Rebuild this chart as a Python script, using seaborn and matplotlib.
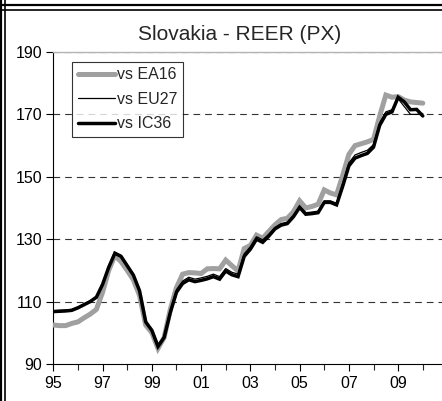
import numpy as np
import pandas as pd
import seaborn as sns
import matplotlib.pyplot as plt
from matplotlib.ticker import MultipleLocator, FixedLocator
from matplotlib.lines import Line2D

# quarterly, 1995Q1 .. 2010Q1
quarters = [1995 + i * 0.25 for i in range(61)]

ea16 = [102.5, 102.3, 102.3, 103.0, 103.5, 104.8, 106.0, 107.5,
        113.0, 120.0, 124.8, 122.8, 120.0, 117.0, 112.0, 102.5,
        100.0, 95.0, 98.5, 107.5, 114.5, 118.8, 119.3, 119.2,
        119.0, 120.5, 120.6, 120.5, 123.3, 121.5, 119.8, 127.0,
        128.0, 131.3, 130.3, 132.5, 134.6, 136.3, 136.7, 138.8,
        142.3, 140.0, 140.5, 141.2, 145.8, 144.8, 144.2, 150.5,
        157.2, 160.0, 160.6, 161.2, 162.0, 169.5, 176.2, 175.5,
        175.7, 174.6, 174.0, 173.8, 173.6]

eu27 = [107.1, 107.2, 107.3, 107.5, 108.3, 109.3, 110.3, 111.7,
        115.8, 121.3, 125.8, 124.8, 121.8, 118.8, 113.8, 103.8,
        101.0, 96.2, 98.8, 107.0, 113.8, 116.6, 117.8, 117.2,
        117.6, 118.1, 118.8, 118.0, 120.6, 119.4, 118.8, 125.3,
        127.6, 130.8, 129.8, 131.6, 133.8, 135.0, 135.5, 137.7,
        140.7, 138.5, 138.7, 139.0, 142.3, 142.3, 141.5, 147.8,
        154.5, 157.0, 157.8, 158.5, 160.3, 167.3, 170.8, 171.5,
        175.0, 172.5, 170.0, 170.0, 170.3]

ic36 = [106.8, 106.9, 107.0, 107.2, 108.0, 109.0, 110.0, 111.4,
        115.5, 121.0, 125.5, 124.5, 121.5, 118.5, 113.5, 103.5,
        100.8, 95.6, 98.5, 106.5, 113.0, 115.8, 117.0, 116.4,
        116.8, 117.3, 118.0, 117.2, 119.8, 118.6, 118.0, 124.5,
        126.8, 130.0, 129.0, 131.0, 133.3, 134.5, 135.0, 137.2,
        140.2, 138.0, 138.2, 138.5, 141.8, 141.8, 141.0, 147.0,
        153.5, 156.0, 156.8, 157.5, 159.5, 166.5, 170.0, 170.8,
        175.5, 174.0, 171.5, 171.6, 169.5]

labels = ['vs EA16', 'vs EU27', 'vs IC36']
year_labels = ['95', '97', '99', '01', '03', '05', '07', '09']

df = pd.DataFrame({'t': quarters, 'vs EA16': ea16, 'vs EU27': eu27, 'vs IC36': ic36})

sns.set_style('white')
plt.rcParams['font.family'] = ['Liberation Sans', 'DejaVu Sans']

fig = plt.figure(figsize=(4.42, 4.01), dpi=100)
ax = fig.add_axes([53.3 / 442, 1 - 364 / 401, 1 - 53.3 / 442, (364 - 52) / 401])

styles = {'vs EA16': ('#a0a0a0', 3.6), 'vs EU27': ('black', 0.9), 'vs IC36': ('black', 2.5)}
for name in ['vs EA16', 'vs IC36', 'vs EU27']:
    c, lw = styles[name]
    sns.lineplot(data=df, x='t', y=name, ax=ax, color=c, linewidth=lw,
                 solid_joinstyle='miter', zorder=3)

ax.set_xlim(1995, 2010.78)
ax.set_ylim(90, 190)
ax.set_xlabel('')
ax.set_ylabel('')
ax.xaxis.set_major_locator(FixedLocator([1995 + 2 * i for i in range(8)]))
ax.set_xticklabels(year_labels)
ax.xaxis.set_minor_locator(MultipleLocator(1))
ax.set_yticks(range(90, 191, 20))
ax.tick_params(axis='both', which='major', direction='out', length=5, width=0.8,
               labelsize=11.5, colors='black', pad=3)
ax.tick_params(axis='x', which='minor', direction='out', length=4, width=0.8, bottom=True)
ax.tick_params(axis='x', bottom=True, pad=4)
ax.tick_params(axis='y', left=True)

for y in [110, 130, 150, 170, 190]:
    ax.axhline(y, color='#333333', lw=0.8, ls=(0, (6, 4.5)), zorder=1)

ax.spines['right'].set_visible(False)
ax.spines['top'].set_color('#b4b4b4')
ax.spines['top'].set_linewidth(1.0)
for s in ['left', 'bottom']:
    ax.spines[s].set_color('black')
    ax.spines[s].set_linewidth(0.8)

handles = [Line2D([], [], color=styles[n][0], lw=styles[n][1]) for n in labels]
leg = ax.legend(handles, labels, loc='upper left', bbox_to_anchor=(0.049, 0.969),
                borderaxespad=0, frameon=True, fancybox=False, fontsize=11.5,
                handlelength=2.3, handletextpad=0.12, labelspacing=0.6,
                borderpad=0.35)
leg.get_frame().set_edgecolor('black')
leg.get_frame().set_linewidth(0.8)

fig.text(240 / 442, 1 - 35 / 401, 'Slovakia - REER (PX)', ha='center', va='center', fontsize=15)

# outer double frame
for x in [1.3 / 442, 5 / 442]:
    fig.add_artist(Line2D([x, x], [0, 1], color='black', lw=1.6 if x < 0.005 else 1.2,
                          transform=fig.transFigure))
for y in [1 - 5 / 401, 1 - 9.5 / 401]:
    fig.add_artist(Line2D([0, 1], [y, y], color='black', lw=1.6 if y > 0.985 else 1.2,
                          transform=fig.transFigure))

fig.savefig('out.png', dpi=100)
